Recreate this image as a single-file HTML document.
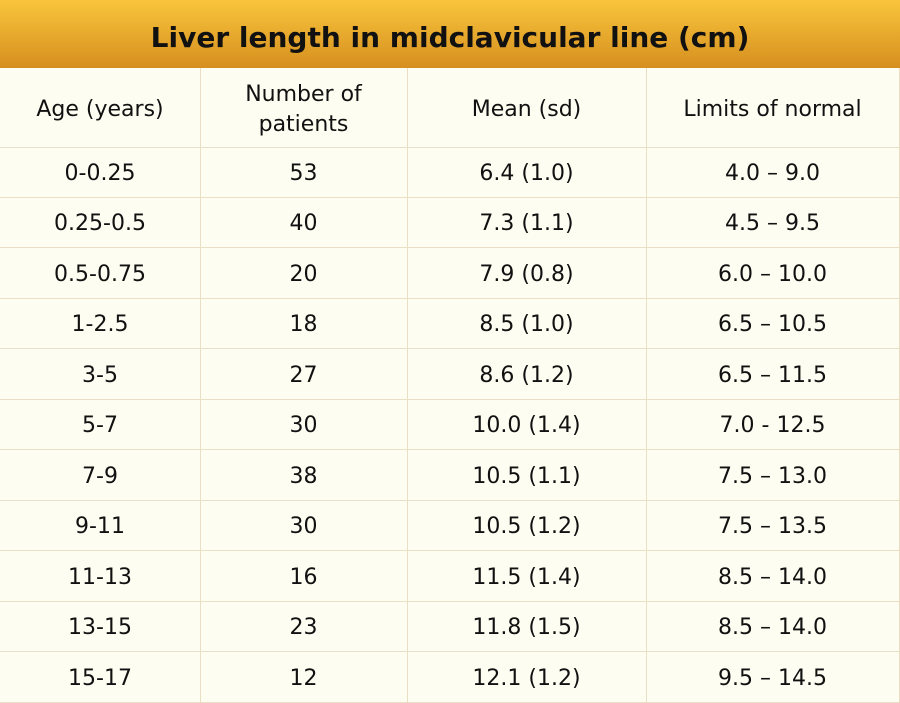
<!DOCTYPE html>
<html><head><style>
body{margin:0;width:900px;height:700px;overflow:hidden;background:#fefdf1;font-family:"DejaVu Sans","Liberation Sans",sans-serif;color:#111}
.h{position:absolute;left:0;top:0;width:900px;height:68px;background:linear-gradient(#f9c53c,#d68f1f);font-weight:bold;font-size:28px;text-align:center;line-height:76px}
.c{position:absolute;display:flex;align-items:center;justify-content:center;text-align:center;font-size:22px;box-sizing:border-box;padding-top:4px;border-right:1px solid #eadfc4;border-bottom:1px solid #eadfc4}
</style></head><body>
<div class="h">Liver length in midclavicular line (cm)</div>
<div id="t"></div>
<script>
var cols=[0,200,407,646,900];
var rows=[["Age (years)","Number of<br>patients","Mean (sd)","Limits of normal"],
["0-0.25","53","6.4 (1.0)","4.0 – 9.0"],["0.25-0.5","40","7.3 (1.1)","4.5 – 9.5"],["0.5-0.75","20","7.9 (0.8)","6.0 – 10.0"],["1-2.5","18","8.5 (1.0)","6.5 – 10.5"],["3-5","27","8.6 (1.2)","6.5 – 11.5"],["5-7","30","10.0 (1.4)","7.0 - 12.5"],["7-9","38","10.5 (1.1)","7.5 – 13.0"],["9-11","30","10.5 (1.2)","7.5 – 13.5"],["11-13","16","11.5 (1.4)","8.5 – 14.0"],["13-15","23","11.8 (1.5)","8.5 – 14.0"],["15-17","12","12.1 (1.2)","9.5 – 14.5"]];
var h="";
for(var r=0;r<rows.length;r++){var yy=r==0?68:146+(r-1)*50.5;var ht=r==0?79:50.5;
for(var c=0;c<4;c++){h+='<div class="c" style="left:'+cols[c]+'px;top:'+yy+'px;width:'+(cols[c+1]-cols[c]+(c<3?1:0))+'px;height:'+(ht+1)+'px;'+(r==0?'line-height:30px;':'')+'">'+rows[r][c]+'</div>';}}
document.getElementById("t").innerHTML=h;
</script>
</body></html>
